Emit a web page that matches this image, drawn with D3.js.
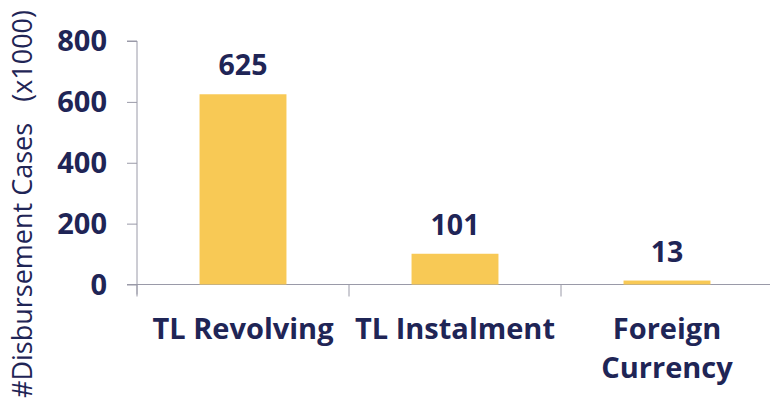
<html>
<head>
<script src="https://d3js.org/d3.v7.min.js"></script>
<style>
body { margin: 0; background: #fff; }
text { font-family: "Open Sans", sans-serif; }
</style>
</head>
<body>
<svg width="770" height="410"></svg>
<script>
var categories = [["TL Revolving"], ["TL Instalment"], ["Foreign", "Currency"]];
var values = [625, 101, 13];
var yTicks = [0, 200, 400, 600, 800];

var navy = "#1f2556";
var svg = d3.select("svg");

var x = d3.scaleBand().domain(d3.range(values.length)).range([137, 773]).paddingInner(0.59).paddingOuter(0.295);
var y = d3.scaleLinear().domain([0, 800]).range([284.5, 41]);

// y axis
var ya = svg.append("g")
  .attr("transform", "translate(137,0)")
  .call(d3.axisLeft(y).tickValues(yTicks).tickSize(10).tickPadding(20));
ya.select(".domain").attr("stroke", "#9a9aa8").attr("d", "M-10," + y(800) + "H0V" + (y(0) + 10));
ya.selectAll(".tick line").attr("stroke", "#9a9aa8");
ya.selectAll(".tick text").attr("fill", navy).attr("dy", "0.34em").style("font-size", "29px").style("font-weight", "bold")
  .style("font-family", "'Open Sans', sans-serif");

// x axis
var xa = svg.append("g").attr("transform", "translate(0," + y(0) + ")");
xa.append("line").attr("x1", 127).attr("x2", 770).attr("stroke", "#9a9aa8");
var xTicks = [137, 137 + x.step(), 137 + 2 * x.step()];
xa.selectAll(".xt").data(xTicks).enter().append("line")
  .attr("x1", function(d) { return d; }).attr("x2", function(d) { return d; })
  .attr("y1", 0).attr("y2", 12).attr("stroke", "#9a9aa8");

// bars
svg.selectAll("rect.bar").data(values).enter().append("rect")
  .attr("class", "bar")
  .attr("x", function(d, i) { return x(i); })
  .attr("width", x.bandwidth())
  .attr("y", function(d) { return y(d); })
  .attr("height", function(d) { return y(0) - y(d); })
  .attr("fill", "#f8c955");

// value labels
svg.selectAll("text.val").data(values).enter().append("text")
  .attr("class", "val")
  .attr("x", function(d, i) { return x(i) + x.bandwidth() / 2; })
  .attr("y", function(d) { return y(d) - 19; })
  .attr("text-anchor", "middle")
  .attr("fill", navy)
  .style("font-size", "28.5px").style("font-weight", "bold")
  .text(function(d) { return d; });

// category labels
var cl = svg.selectAll("text.cat").data(categories).enter().append("text")
  .attr("class", "cat")
  .attr("text-anchor", "middle")
  .attr("fill", navy)
  .style("font-size", "29px").style("font-weight", "bold");
cl.each(function(lines, i) {
  var t = d3.select(this);
  lines.forEach(function(s, j) {
    t.append("tspan").attr("x", x(i) + x.bandwidth() / 2).attr("y", 339 + j * 39).text(s);
  });
});

// y title
svg.append("text")
  .attr("transform", "translate(32,204) rotate(-90)")
  .attr("text-anchor", "middle")
  .attr("fill", navy)
  .style("font-size", "27px")
  .style("white-space", "pre")
  .text("#Disbursement Cases   (x1000)");
</script>
</body>
</html>
